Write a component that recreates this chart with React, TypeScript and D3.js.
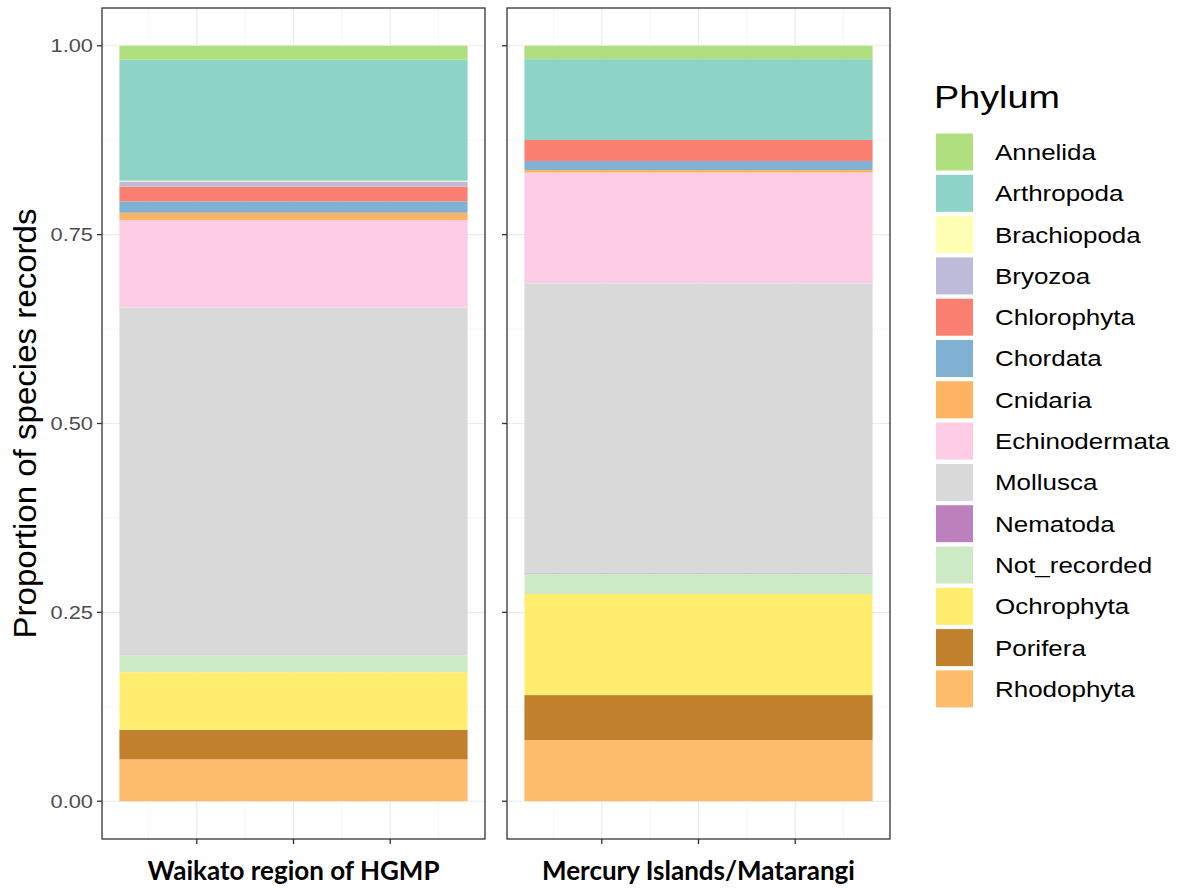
import React, { useEffect, useRef } from "react";
import * as d3 from "d3";

const phyla = [
  "Annelida", "Arthropoda", "Brachiopoda", "Bryozoa", "Chlorophyta", "Chordata", "Cnidaria",
  "Echinodermata", "Mollusca", "Nematoda", "Not_recorded", "Ochrophyta", "Porifera", "Rhodophyta",
];
const phylumColors = [
  "#b0df7f", "#8dd3c7", "#ffffb3", "#bebada", "#fb8072", "#80b1d3", "#fdb462",
  "#fccde5", "#d9d9d9", "#bc80bd", "#ccebc5", "#ffed6f", "#c1802c", "#fdbb6c",
];
const sites = ["Waikato region of HGMP", "Mercury Islands/Matarangi"];
const waikato = [0.0185, 0.16, 0.0012, 0.0068, 0.0195, 0.015, 0.0097, 0.1158, 0.4607, 0, 0.022, 0.0763, 0.039, 0.0555];
const mercury = [0.0177, 0.107, 0, 0, 0.0278, 0.0119, 0.0035, 0.1465, 0.383, 0.001, 0.0273, 0.1338, 0.0596, 0.0809];
const yTicks = [0, 0.25, 0.5, 0.75, 1];

// the source picture is stretched sideways a little
const STRETCH = 1.18;

export default function App() {
  const svgRef = useRef<SVGSVGElement | null>(null);

  useEffect(() => {
    if (!svgRef.current) return;
    const svg = d3.select(svgRef.current);
    svg.selectAll("*").remove();

    const panels = [
      { left: 102, right: 485, values: waikato, name: sites[0] },
      { left: 507, right: 890, values: mercury, name: sites[1] },
    ];
    const top = 8;
    const bottom = 839;

    const y = d3.scaleLinear().domain([-0.05, 1.05]).range([bottom, top]);
    const color = d3.scaleOrdinal<string, string>().domain(phyla).range(phylumColors);

    panels.forEach((p, pi) => {
      const x = d3.scaleLinear().domain([-1.98, 1.98]).range([p.left, p.right]);
      const g = svg.append("g");

      g.append("rect")
        .attr("x", p.left).attr("y", top)
        .attr("width", p.right - p.left).attr("height", bottom - top)
        .attr("fill", "#fff");

      // minor grid
      [0.125, 0.375, 0.625, 0.875].forEach((v) => {
        g.append("line").attr("x1", p.left).attr("x2", p.right)
          .attr("y1", y(v)).attr("y2", y(v)).attr("stroke", "#f4f4f4").attr("stroke-width", 0.8);
      });
      [-1.5, -0.5, 0.5, 1.5].forEach((v) => {
        g.append("line").attr("y1", top).attr("y2", bottom)
          .attr("x1", x(v)).attr("x2", x(v)).attr("stroke", "#f4f4f4").attr("stroke-width", 0.8);
      });
      // major grid
      yTicks.forEach((v) => {
        g.append("line").attr("x1", p.left).attr("x2", p.right)
          .attr("y1", y(v)).attr("y2", y(v)).attr("stroke", "#ebebeb").attr("stroke-width", 1.2);
      });
      [-1, 0, 1].forEach((v) => {
        g.append("line").attr("y1", top).attr("y2", bottom)
          .attr("x1", x(v)).attr("x2", x(v)).attr("stroke", "#ebebeb").attr("stroke-width", 1.2);
      });

      // stacked bar, first phylum on top
      const order = d3.range(phyla.length).reverse();
      let cum = 0;
      order.forEach((i) => {
        const v = p.values[i];
        if (v > 0) {
          g.append("rect")
            .attr("x", x(-1.8))
            .attr("width", x(1.8) - x(-1.8))
            .attr("y", y(cum + v))
            .attr("height", y(cum) - y(cum + v))
            .attr("fill", color(phyla[i]));
        }
        cum += v;
      });

      g.append("rect")
        .attr("x", p.left).attr("y", top)
        .attr("width", p.right - p.left).attr("height", bottom - top)
        .attr("fill", "none").attr("stroke", "#333").attr("stroke-width", 1.3);

      // y ticks
      yTicks.forEach((v) => {
        g.append("line").attr("x1", p.left - 5).attr("x2", p.left)
          .attr("y1", y(v)).attr("y2", y(v)).attr("stroke", "#333").attr("stroke-width", 1.3);
        if (pi === 0) {
          g.append("text")
            .attr("transform", `translate(${p.left - 9},${y(v)}) scale(${STRETCH},1)`)
            .attr("dy", "0.36em").attr("text-anchor", "end")
            .attr("font-family", "Liberation Sans, Arial, sans-serif")
            .attr("font-size", 18.5).attr("fill", "#4d4d4d")
            .text(d3.format(".2f")(v));
        }
      });
      // x ticks (blank labels)
      [-1, 0, 1].forEach((v) => {
        g.append("line").attr("y1", bottom).attr("y2", bottom + 5)
          .attr("x1", x(v)).attr("x2", x(v)).attr("stroke", "#333").attr("stroke-width", 1.3);
      });

      g.append("text")
        .attr("x", x(0)).attr("y", 880)
        .attr("text-anchor", "middle")
        .attr("font-family", "Lato, Open Sans, sans-serif")
        .attr("font-weight", "bold")
        .attr("font-size", 26)
        .attr("fill", "#000")
        .text(p.name);
    });

    // y axis title
    svg.append("text")
      .attr("transform", `translate(36,${y(0.5)}) scale(${STRETCH},1) rotate(-90)`)
      .attr("text-anchor", "middle")
      .attr("font-family", "Liberation Sans, Arial, sans-serif")
      .attr("font-size", 26)
      .attr("textLength", 430)
      .attr("lengthAdjust", "spacingAndGlyphs")
      .attr("fill", "#000")
      .text("Proportion of species records");

    // legend
    const lg = svg.append("g");
    lg.append("text")
      .attr("transform", `translate(934,108) scale(${STRETCH},1)`)
      .attr("font-family", "Liberation Sans, Arial, sans-serif")
      .attr("font-size", 32).attr("fill", "#000")
      .text("Phylum");
    const step = 41.3;
    phyla.forEach((ph, i) => {
      const cy = 152 + i * step;
      lg.append("rect")
        .attr("x", 936).attr("y", cy - 18.5)
        .attr("width", 37).attr("height", 37)
        .attr("fill", color(ph));
      lg.append("text")
        .attr("transform", `translate(995,${cy}) scale(${STRETCH},1)`)
        .attr("dy", "0.36em")
        .attr("font-family", "Liberation Sans, Arial, sans-serif")
        .attr("font-size", 22).attr("fill", "#000")
        .text(ph);
    });
  }, []);

  return (
    <div style={{ position: "absolute", left: 0, top: 0 }}>
      <svg ref={svgRef} width={1181} height={889} style={{ display: "block", background: "#fff" }} />
    </div>
  );
}
